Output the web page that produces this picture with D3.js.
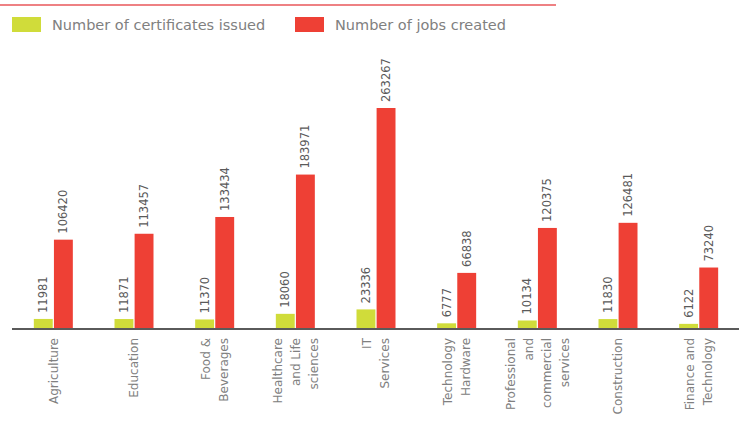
<!DOCTYPE html>
<html>
<head>
<meta charset="utf-8">
<script src="https://cdn.jsdelivr.net/npm/d3@7"></script>
<style>
  html, body { margin: 0; padding: 0; background: #fff; }
  svg { display: block; font-family: "DejaVu Sans", sans-serif; }
</style>
</head>
<body>
<svg id="chart" width="739" height="433"></svg>
<script>
// Sectors (multi-line labels split on "|")
const categories = [
  "Agriculture",
  "Education",
  "Food &|Beverages",
  "Healthcare|and Life|sciences",
  "IT|Services",
  "Technology|Hardware",
  "Professional|and|commercial|services",
  "Construction",
  "Finance and|Technology"
];
const certificatesIssued = [11981, 11871, 11370, 18060, 23336, 6777, 10134, 11830, 6122];
const jobsCreated = [106420, 113457, 133434, 183971, 263267, 66838, 120375, 126481, 73240];
const seriesNames = ["Number of certificates issued", "Number of jobs created"];
const seriesColors = ["#d0dc3a", "#ee4035"];

const svg = d3.select("#chart");
const baseY = 329;

const rows = categories.map((c, i) => ({
  cat: c,
  values: [
    { key: 0, value: certificatesIssued[i] },
    { key: 1, value: jobsCreated[i] }
  ]
}));

const x0 = d3.scaleBand().domain(categories).range([13, 739]).padding(0);
const bw = x0.bandwidth();
const x1 = d3.scaleBand().domain([0, 1]).range([bw / 2 - 19.5, bw / 2 + 19.5]).paddingInner(0.06);
const y = d3.scaleLinear().domain([0, d3.max(jobsCreated)]).range([baseY, 108]);

// header rule
svg.append("line")
  .attr("x1", 0).attr("x2", 556).attr("y1", 5).attr("y2", 5)
  .attr("stroke", "#e9575a").attr("stroke-width", 1.5);

// legend
const legend = svg.append("g");
const legendX = [12, 295];
seriesNames.forEach((name, i) => {
  const g = legend.append("g").attr("transform", `translate(${legendX[i]},17)`);
  g.append("rect").attr("width", 29).attr("height", 15).attr("fill", seriesColors[i]);
  g.append("text")
    .attr("x", 40).attr("y", 8).attr("dy", "0.35em")
    .attr("font-size", 14.5).attr("fill", "#808080")
    .text(name);
});

// bars
const groups = svg.append("g").selectAll("g.group")
  .data(rows).join("g")
  .attr("class", "group")
  .attr("transform", d => `translate(${x0(d.cat)},0)`);

groups.selectAll("rect")
  .data(d => d.values).join("rect")
  .attr("x", d => x1(d.key))
  .attr("width", x1.bandwidth())
  .attr("y", d => y(d.value))
  .attr("height", d => baseY - y(d.value))
  .attr("fill", d => seriesColors[d.key]);

// value labels above bars
groups.selectAll("text.val")
  .data(d => d.values).join("text")
  .attr("class", "val")
  .each(function (d) {
    const cx = x1(d.key) + x1.bandwidth() / 2;
    const cy = y(d.value) - 6;
    d3.select(this)
      .attr("x", cx).attr("y", cy)
      .attr("transform", `rotate(-90,${cx},${cy})`);
  })
  .attr("dy", "0.35em")
  .attr("text-anchor", "start")
  .attr("font-size", 11.5).attr("fill", "#5a5a5a")
  .text(d => d.value);

// baseline axis
const axis = svg.append("g").attr("transform", `translate(0,${baseY})`)
  .call(d3.axisBottom(x0).tickSize(0).tickFormat(""));
axis.select(".domain").attr("stroke", "#5a5a5a").attr("stroke-width", 2)
  .attr("d", "M12,0H739");

// category labels, rotated, lines stacked left to right
const lineGap = 18;
groups.each(function (d) {
  const lines = d.cat.split("|");
  const g = d3.select(this);
  lines.forEach((ln, j) => {
    const cx = bw / 2 + (j - (lines.length - 1) / 2) * lineGap;
    const cy = 338;
    g.append("text")
      .attr("x", cx).attr("y", cy)
      .attr("transform", `rotate(-90,${cx},${cy})`)
      .attr("dy", "0.35em")
      .attr("text-anchor", "end")
      .attr("font-size", 12).attr("fill", "#808080")
      .text(ln);
  });
});
</script>
</body>
</html>
